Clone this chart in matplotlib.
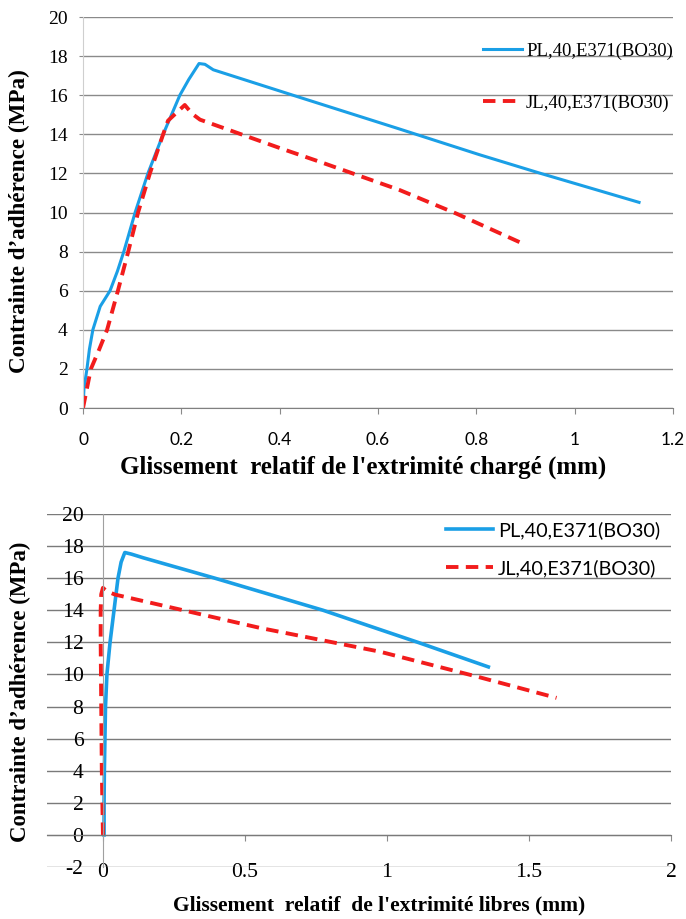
import matplotlib
matplotlib.use("Agg")
import matplotlib.pyplot as plt

plt.rcParams["axes.unicode_minus"] = False

# --- charged end (top chart) ---
x_pl_charge = [0, 0.002, 0.008, 0.013, 0.02, 0.035, 0.055, 0.07, 0.083, 0.106, 0.132,
               0.163, 0.197, 0.215, 0.236, 0.248, 0.265, 0.427, 0.644, 0.806,
               0.931, 1.131]
y_pl_charge = [0, 1.0, 2.0, 3.0, 4.0, 5.2, 6.0, 7.0, 8.0, 10.0, 12.0,
               14.0, 16.0, 16.8, 17.62, 17.58, 17.3, 16.0, 14.27, 12.96,
               12.0, 10.52]
x_jl_charge = [0, 0.008, 0.016, 0.033, 0.049, 0.071, 0.092, 0.112, 0.136, 0.163, 0.173,
               0.19, 0.207, 0.222, 0.238, 0.4, 0.481, 0.644, 0.759, 0.891]
y_jl_charge = [0, 1.0, 2.0, 3.0, 4.0, 6.0, 8.0, 10.0, 12.0, 14.0, 14.7,
               15.1, 15.5, 15.05, 14.75, 13.3, 12.6, 11.15, 9.95, 8.45]

# --- free end (bottom chart) ---
x_pl_libre = [0.004, 0.004, 0.005, 0.007, 0.009, 0.014, 0.025, 0.039, 0.053, 0.064,
              0.077, 0.1, 0.142, 0.394, 0.775, 0.975, 1.109, 1.357]
y_pl_libre = [0, 2, 4, 6, 8, 10, 12, 14, 16, 17.0,
              17.6, 17.5, 17.27, 16.0, 14.0, 12.8, 12.0, 10.47]
x_jl_libre = [0.0, -0.002, -0.004, -0.005, -0.006, -0.007, -0.008, -0.008, -0.006,
              0.0, 0.012, 0.042, 0.553, 0.975, 1.327, 1.597]
y_jl_libre = [0, 2, 4, 6, 8, 10, 12, 14, 15.0,
              15.4, 15.2, 14.98, 12.9, 11.42, 9.82, 8.54]

labels = ["PL,40,E371(BO30)", "JL,40,E371(BO30)"]
ylabel = "Contrainte d\u2019adh\u00e9rence (MPa)"
xlabel_top = "Glissement  relatif de l'extrimit\u00e9 charg\u00e9 (mm)"
xlabel_bot = "Glissement  relatif  de l'extrimit\u00e9 libres (mm)"

blue = "#1a9fe6"
red = "#f21c1c"
serif = "Liberation Serif"
sans = "Lato"

fig = plt.figure(figsize=(6.86, 9.19), dpi=100)

# top chart
ax1 = fig.add_axes([0.121, 0.556, 0.860, 0.4255])
ax1.plot(x_pl_charge, y_pl_charge, color=blue, lw=2.2, label=labels[0])
ax1.plot(x_jl_charge, y_jl_charge, color=red, lw=2.8, dashes=(3.2, 1.9),
         dash_capstyle="butt", label=labels[1])
ax1.set_xlim(0, 1.2)
ax1.set_ylim(0, 20)
ax1.set_xticks([0, 0.2, 0.4, 0.6, 0.8, 1, 1.2])
ax1.set_xticklabels(["0", "0.2", "0.4", "0.6", "0.8", "1", "1.2"])
ax1.set_yticks(range(0, 21, 2))
ax1.yaxis.grid(True, color="#8a8a8a", lw=1)
ax1.set_axisbelow(True)
for s in ["top", "right"]:
    ax1.spines[s].set_visible(False)
ax1.spines["left"].set_color("#cfcfcf")
ax1.spines["bottom"].set_color("#808080")
ax1.tick_params(axis="y", length=3, color="#8a8a8a", pad=8)
ax1.tick_params(axis="x", length=4, color="#8a8a8a", pad=13)
for t in ax1.get_yticklabels():
    t.set_fontfamily(serif)
    t.set_fontsize(14)
for t in ax1.get_xticklabels():
    t.set_fontfamily(sans)
    t.set_fontsize(12.5)
ax1.set_xlabel(xlabel_top, fontfamily=serif, fontweight="bold", fontsize=18, va="center")
ax1.xaxis.set_label_coords(0.475, -0.151)
ax1.set_ylabel(ylabel, fontfamily=serif, fontweight="bold", fontsize=16.7, va="center")
ax1.yaxis.set_label_coords(-0.107, 0.478)
ax1.legend(loc="upper left", bbox_to_anchor=(0.678, 0.935), frameon=False,
           prop={"family": serif, "size": 13.5}, handlelength=2.1,
           handletextpad=0.2, labelspacing=1.85, borderpad=0, borderaxespad=0)

# bottom chart
ax2 = fig.add_axes([0.0685, 0.0566, 0.9096, 0.3841])
ax2.plot(x_pl_libre, y_pl_libre, color=blue, lw=2.6, label=labels[0])
ax2.plot(x_jl_libre, y_jl_libre, color=red, lw=2.8, dashes=(3.2, 1.9),
         dash_capstyle="butt", label=labels[1])
ax2.set_xlim(-0.197, 2)
ax2.set_ylim(-2, 20)
ax2.set_xticks([0, 0.5, 1, 1.5, 2])
ax2.set_xticklabels(["0", "0.5", "1", "1.5", "2"])
ax2.set_yticks(range(-2, 21, 2))
ax2.yaxis.grid(True, color="#7a7a7a", lw=1)
ax2.set_axisbelow(True)
for s in ["top", "right"]:
    ax2.spines[s].set_visible(False)
ax2.spines["left"].set_position(("data", 0))
ax2.spines["bottom"].set_position(("data", 0))
ax2.spines["left"].set_color("#a0a0a0")
ax2.spines["bottom"].set_color("#7a7a7a")
ax2.tick_params(axis="y", length=0, pad=14)
ax2.tick_params(axis="x", length=4, color="#8a8a8a", pad=16)
for t in ax2.get_yticklabels() + ax2.get_xticklabels():
    t.set_fontfamily(serif)
    t.set_fontsize(15.6)
ax2.set_xlabel(xlabel_bot, fontfamily=serif, fontweight="bold", fontsize=15.5, va="center")
ax2.xaxis.set_label_coords(0.532, -0.108)
ax2.set_ylabel(ylabel, fontfamily=serif, fontweight="bold", fontsize=16.5, va="center")
ax2.yaxis.set_label_coords(-0.043, 0.496)
ax2.legend(loc="upper left", bbox_to_anchor=(0.64, 0.979), frameon=False,
           prop={"family": sans, "size": 14.3}, handlelength=2.35,
           handletextpad=0.25, labelspacing=1.0, borderpad=0, borderaxespad=0)

fig.savefig("out.png", dpi=100)
